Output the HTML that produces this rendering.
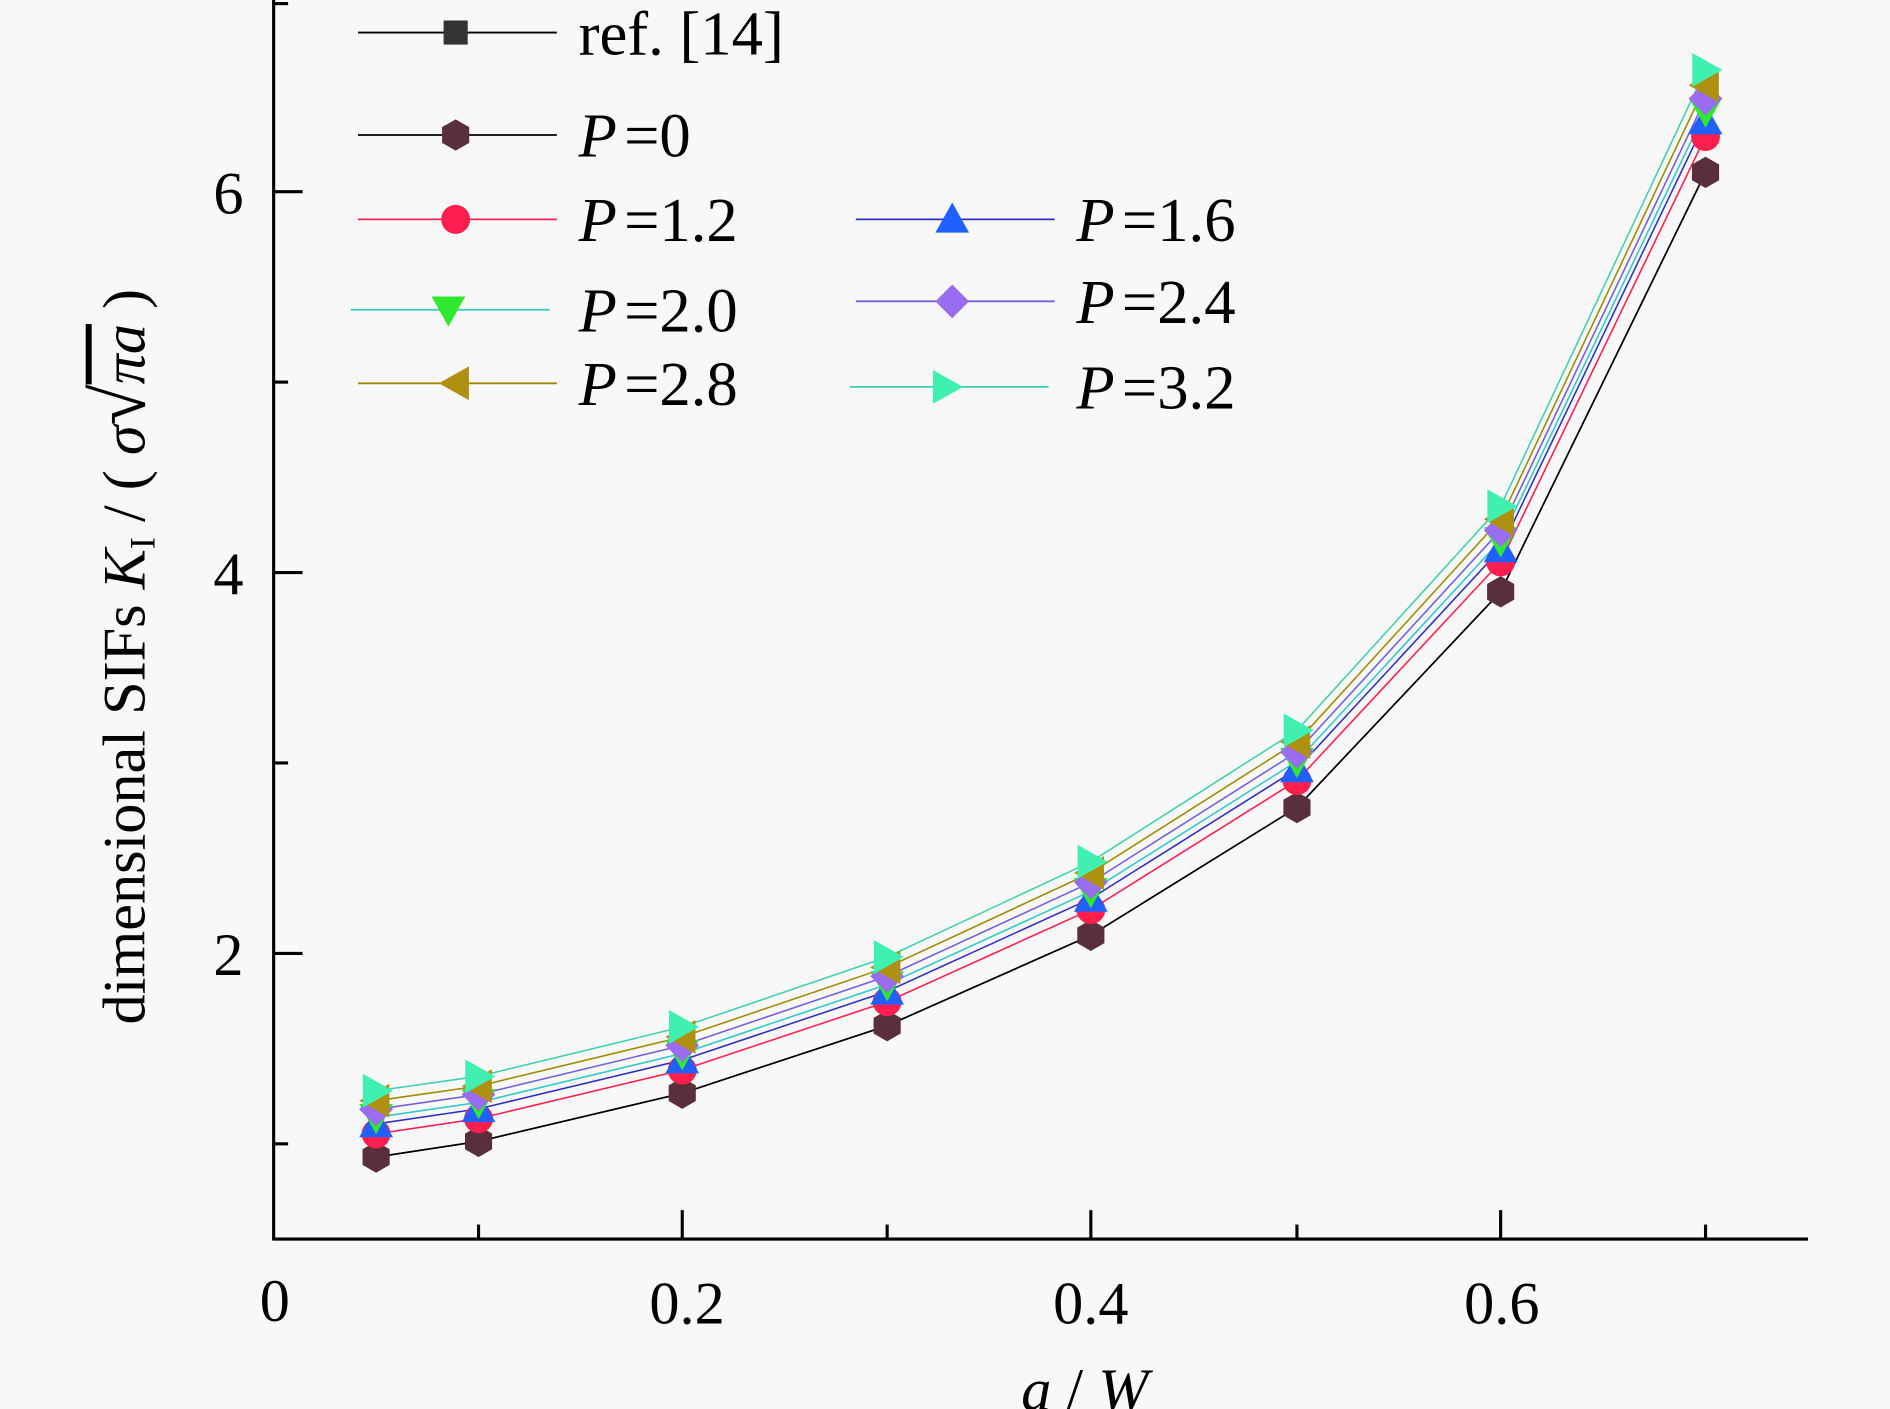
<!DOCTYPE html>
<html><head><meta charset="utf-8"><style>
html,body{margin:0;padding:0;background:#f8f8f8}
svg{display:block}
text{font-family:"Liberation Serif","Times New Roman",serif;fill:#000}
</style></head><body>
<svg id="s" width="1890" height="1409" viewBox="0 0 1568 1169" xmlns="http://www.w3.org/2000/svg">
<rect width="1568" height="1169" fill="#f8f8f8"/>
<g stroke="#000" stroke-width="2.6" fill="none">
<line x1="227" y1="0" x2="227" y2="1029"/>
<line x1="226" y1="1028" x2="1500" y2="1028"/>
<line x1="227" y1="159" x2="251" y2="159"/>
<line x1="227" y1="475" x2="251" y2="475"/>
<line x1="227" y1="791" x2="251" y2="791"/>
<line x1="227" y1="3" x2="239" y2="3"/>
<line x1="227" y1="317" x2="239" y2="317"/>
<line x1="227" y1="633" x2="239" y2="633"/>
<line x1="227" y1="949" x2="239" y2="949"/>
<line x1="566" y1="1028" x2="566" y2="1004"/>
<line x1="905" y1="1028" x2="905" y2="1004"/>
<line x1="1245" y1="1028" x2="1245" y2="1004"/>
<line x1="397" y1="1028" x2="397" y2="1016"/>
<line x1="736" y1="1028" x2="736" y2="1016"/>
<line x1="1076" y1="1028" x2="1076" y2="1016"/>
<line x1="1415" y1="1028" x2="1415" y2="1016"/>
</g>
<g font-size="50">
<text x="202" y="177" text-anchor="end">6</text>
<text x="202" y="493" text-anchor="end">4</text>
<text x="202" y="809" text-anchor="end">2</text>
<text x="228" y="1096" text-anchor="middle">0</text>
<text x="570" y="1098" text-anchor="middle">0.2</text>
<text x="905" y="1098" text-anchor="middle">0.4</text>
<text x="1246" y="1098" text-anchor="middle">0.6</text>
<text x="900" y="1170" text-anchor="middle"><tspan font-style="italic">a</tspan> / <tspan font-style="italic">W</tspan></text>
<text transform="translate(120,850) rotate(-90)">dimensional SIFs <tspan font-style="italic">K</tspan><tspan font-size="30" dy="8">I</tspan><tspan dy="-8"> / ( </tspan><tspan font-style="italic">σ</tspan><tspan font-size="62">√</tspan><tspan text-decoration="overline" font-style="italic">πa</tspan>  )</text>
</g>
<g id="plot"></g>
<g id="leg" font-size="52"></g>
</svg>
<script>
var NS="http://www.w3.org/2000/svg";
function el(p,t,a){var e=document.createElementNS(NS,t);for(var k in a)e.setAttribute(k,a[k]);p.appendChild(e);return e;}
var xs=[312,397,566,736,905,1076,1245,1415];
var y0=[960,947,907,851,776,670,491,143];
var y1=[905,893,852,794,715,606,420,58];
function marker(g,type,x,y,fill){
 var p;
 if(type=="sq")return el(g,"rect",{x:x-10,y:y-10,width:20,height:20,fill:fill});
 if(type=="circ")return el(g,"circle",{cx:x,cy:y,r:12,fill:fill});
 if(type=="hex"){p=[];for(var i=0;i<6;i++){var a=Math.PI/6+i*Math.PI/3;p.push((x+13*Math.cos(a))+","+(y+13*Math.sin(a)));}return el(g,"polygon",{points:p.join(" "),fill:fill});}
 if(type=="up")p=[[x,y-14],[x+14,y+11],[x-14,y+11]];
 if(type=="dn")p=[[x,y+14],[x+14,y-11],[x-14,y-11]];
 if(type=="dia")p=[[x,y-14],[x+14,y],[x,y+14],[x-14,y]];
 if(type=="lf")p=[[x-14,y],[x+11,y-14],[x+11,y+14]];
 if(type=="rt")p=[[x+14,y],[x-11,y-14],[x-11,y+14]];
 return el(g,"polygon",{points:p.map(function(q){return q.join(",")}).join(" "),fill:fill});
}
var S=[
 {f:0,m:"sq",c:"#333",l:"#000",lab:"ref. [14]"},
 {f:0,m:"hex",c:"#5a2f3c",l:"#000",lab:"0"},
 {f:0.35,m:"circ",c:"#ff1f4f",l:"#ff1f4f",lab:"1.2"},
 {f:0.5,m:"up",c:"#2060ff",l:"#3030c0",lab:"1.6"},
 {f:0.6,m:"dn",c:"#30e830",l:"#30c8c8",lab:"2.0"},
 {f:0.72,m:"dia",c:"#9a6cf0",l:"#7060e0",lab:"2.4"},
 {f:0.85,m:"lf",c:"#b09010",l:"#a08a00",lab:"2.8"},
 {f:1,m:"rt",c:"#40f0b0",l:"#40d0b0",lab:"3.2"}];
var g=document.getElementById("plot");
S.forEach(function(s){
 var pts=xs.map(function(x,i){return [x,y0[i]+(y1[i]-y0[i])*s.f];});
 el(g,"polyline",{points:pts.map(function(p){return p.join(",")}).join(" "),fill:"none",stroke:s.l,"stroke-width":1.3});
});
S.forEach(function(s,k){
 if(k==0)return;
 xs.forEach(function(x,i){marker(g,s.m,x,y0[i]+(y1[i]-y0[i])*s.f,s.c);});
});
var L=document.getElementById("leg");
var pos=[[297,27,0],[297,112,0],[297,182,0],[710,182,1],[291,257,0],[710,250,1],[297,318,0],[705,321,1]];
S.forEach(function(s,i){
 var p=pos[i],x=p[0],y=p[1],mx=x+(p[2]?80:81);
 el(L,"line",{x1:x,y1:y,x2:x+165,y2:y,stroke:s.l,"stroke-width":1.5});
 marker(L,s.m,mx,y,s.c);
 var tx=p[2]?893:480;
 var t=el(L,"text",{x:tx,y:y+18});
 if(i==0){t.textContent=s.lab;}
 else{var a=el(t,"tspan",{"font-style":"italic"});a.textContent="P";var b=el(t,"tspan",{});b.textContent="="+s.lab;b.setAttribute("dx","6");}
});
</script>
</body></html>
